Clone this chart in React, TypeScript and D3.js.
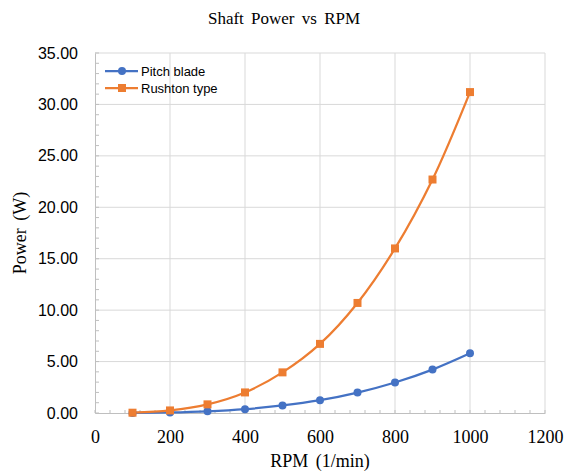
import React, { useEffect, useRef } from 'react'
import { select, scaleLinear, axisBottom, axisLeft, line, curveCatmullRom, range, symbol, symbolSquare } from 'd3'

const rpm = [100, 200, 300, 400, 500, 600, 700, 800, 900, 1000]
const pitchBlade = [0.01, 0.05, 0.16, 0.37, 0.73, 1.25, 1.99, 2.97, 4.22, 5.8]
const rushtonType = [0.03, 0.25, 0.84, 2.0, 3.95, 6.72, 10.7, 16.0, 22.7, 31.2]
const xTicks = [0, 200, 400, 600, 800, 1000, 1200]
const yTicks = [0, 5, 10, 15, 20, 25, 30, 35]
const seriesNames = ['Pitch blade', 'Rushton type']

const BLUE = '#4472C4'
const ORANGE = '#ED7D31'
const SERIF = '"Liberation Serif", "Times New Roman", serif'
const SANS = '"Liberation Sans", Arial, sans-serif'

function App() {
  const svgRef = useRef<SVGSVGElement>(null)

  useEffect(() => {
    const width = 566, height = 474
    const plot = { left: 95, right: 545, top: 53, bottom: 413 }

    const svg = select(svgRef.current)
    svg.selectAll('*').remove()
    svg.attr('width', width).attr('height', height)

    svg.append('rect').attr('width', width).attr('height', height).attr('fill', 'white')

    const x = scaleLinear().domain([0, 1200]).range([plot.left, plot.right])
    const y = scaleLinear().domain([0, 35]).range([plot.bottom, plot.top])

    // gridlines
    svg.append('g')
      .selectAll('line.v')
      .data(xTicks.slice(1))
      .enter().append('line')
      .attr('x1', d => x(d)).attr('x2', d => x(d))
      .attr('y1', plot.top).attr('y2', plot.bottom)
      .style('stroke', '#d9d9d9').style('stroke-width', 1)

    svg.append('g')
      .selectAll('line.h')
      .data(yTicks.slice(1))
      .enter().append('line')
      .attr('x1', plot.left).attr('x2', plot.right)
      .attr('y1', d => y(d)).attr('y2', d => y(d))
      .style('stroke', '#d9d9d9').style('stroke-width', 1)

    // minor ticks (inside)
    const minorX = range(0, 1201, 40)
    svg.append('g')
      .selectAll('line')
      .data(minorX)
      .enter().append('line')
      .attr('x1', d => x(d)).attr('x2', d => x(d))
      .attr('y1', plot.bottom).attr('y2', plot.bottom - 3)
      .style('stroke', '#bfbfbf')

    const minorY = range(0, 36, 1)
    svg.append('g')
      .selectAll('line')
      .data(minorY)
      .enter().append('line')
      .attr('x1', plot.left).attr('x2', plot.left + 4)
      .attr('y1', d => y(d)).attr('y2', d => y(d))
      .style('stroke', '#bfbfbf')

    // axes
    const gx = svg.append('g')
      .attr('transform', `translate(0, ${plot.bottom})`)
      .call(axisBottom(x).tickValues(xTicks).tickSize(0).tickPadding(0).tickFormat(d => String(d)))
    gx.select('.domain').style('stroke', '#bfbfbf')
    gx.selectAll('text')
      .attr('y', 30)
      .attr('dy', 0)
      .style('font-family', SERIF)
      .style('font-size', '18px')
      .style('fill', '#000')

    const gy = svg.append('g')
      .attr('transform', `translate(${plot.left}, 0)`)
      .call(axisLeft(y).tickValues(yTicks).tickSize(0).tickPadding(17).tickFormat(d => (d as number).toFixed(2)))
    gy.select('.domain').style('stroke', '#bfbfbf')
    gy.selectAll('text')
      .style('font-family', SANS)
      .style('font-size', '16px')
      .style('fill', '#000')

    // series
    const lineGen = line<number>()
      .x((d, i) => x(rpm[i]))
      .y(d => y(d))
      .curve(curveCatmullRom.alpha(0.5))

    svg.append('path')
      .datum(pitchBlade)
      .attr('d', lineGen)
      .style('fill', 'none')
      .style('stroke', BLUE)
      .style('stroke-width', 2.25)

    svg.append('path')
      .datum(rushtonType)
      .attr('d', lineGen)
      .style('fill', 'none')
      .style('stroke', ORANGE)
      .style('stroke-width', 2.25)

    svg.append('g')
      .selectAll('circle')
      .data(pitchBlade)
      .enter().append('circle')
      .attr('cx', (d, i) => x(rpm[i]))
      .attr('cy', d => y(d))
      .attr('r', 4)
      .style('fill', BLUE)

    const square = symbol().type(symbolSquare).size(64)
    svg.append('g')
      .selectAll('path')
      .data(rushtonType)
      .enter().append('path')
      .attr('d', square)
      .attr('transform', (d, i) => `translate(${x(rpm[i])}, ${y(d)})`)
      .style('fill', ORANGE)

    // legend
    const legend = svg.append('g').attr('transform', 'translate(105, 71)')
    seriesNames.forEach((name, i) => {
      const row = legend.append('g').attr('transform', `translate(0, ${i * 17})`)
      const color = i === 0 ? BLUE : ORANGE
      row.append('line')
        .attr('x1', 0).attr('x2', 33)
        .style('stroke', color).style('stroke-width', 2.25)
      if (i === 0) {
        row.append('circle').attr('cx', 17).attr('r', 4).style('fill', color)
      } else {
        row.append('path').attr('d', square).attr('transform', 'translate(17, 0)').style('fill', color)
      }
      row.append('text')
        .attr('x', 36)
        .attr('dy', '0.35em')
        .text(name)
        .style('font-family', SANS)
        .style('font-size', '13px')
        .style('fill', '#000')
    })

    // titles
    svg.append('text')
      .attr('x', 284).attr('y', 24)
      .attr('text-anchor', 'middle')
      .text('Shaft Power vs RPM')
      .style('font-family', SERIF)
      .style('font-size', '17px')
      .style('word-spacing', '3px')

    svg.append('text')
      .attr('x', (plot.left + plot.right) / 2).attr('y', 467)
      .attr('text-anchor', 'middle')
      .text('RPM (1/min)')
      .style('font-family', SERIF)
      .style('font-size', '18px')
      .style('word-spacing', '3px')

    svg.append('text')
      .attr('transform', `translate(26, ${(plot.top + plot.bottom) / 2}) rotate(-90)`)
      .attr('text-anchor', 'middle')
      .text('Power (W)')
      .style('font-family', SERIF)
      .style('font-size', '18px')
      .style('word-spacing', '3px')
  }, [])

  return (
    <svg ref={svgRef} style={{ position: 'absolute', left: 0, top: 0, display: 'block' }}></svg>
  )
}

export default App
